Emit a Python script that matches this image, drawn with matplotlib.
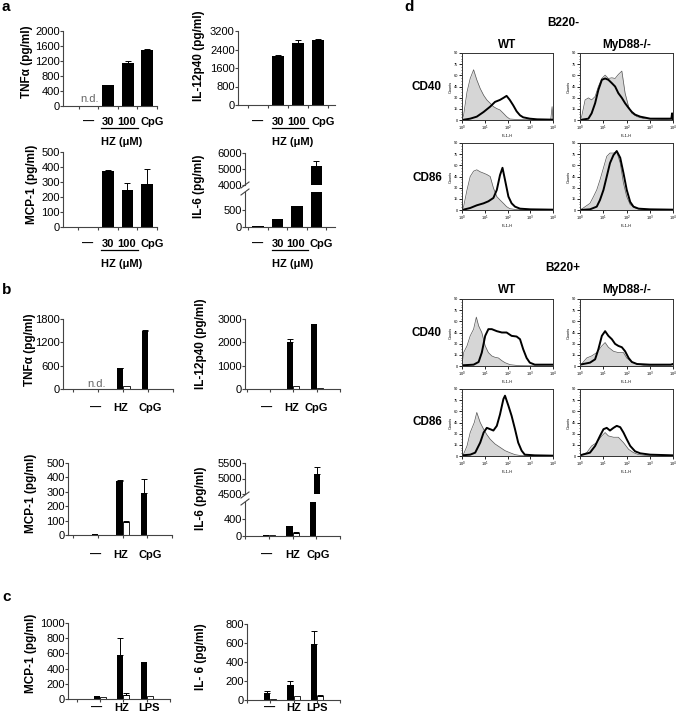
import matplotlib
matplotlib.use("Agg")
import matplotlib.pyplot as plt
from matplotlib.lines import Line2D
import numpy as np

plt.rcParams['font.family'] = ['Liberation Sans', 'DejaVu Sans']

# ---------------- data: panel a (HZ dose) ----------------
a_cats = ["\u2014", "30", "100", "CpG"]
a_tnf = [0, 560, 1160, 1500]
a_tnf_err = [0, 0, 50, 20]
a_il12 = [20, 2100, 2700, 2830]
a_il12_err = [0, 80, 120, 20]
a_mcp = [3, 375, 245, 290]
a_mcp_err = [0, 5, 50, 100]
a_il6 = [30, 250, 620, 5200]
a_il6_err = [0, 0, 0, 300]

# ---------------- data: panel b (black / white pairs) ----------------
b_groups = ["\u2014", "HZ", "CpG"]
b_tnf_black = [0, 530, 1500]
b_tnf_black_err = [0, 20, 20]
b_tnf_white = [0, 80, 0]
b_tnf_white_err = [0, 0, 0]
b_il12_black = [10, 2030, 2800]
b_il12_black_err = [0, 120, 0]
b_il12_white = [10, 120, 30]
b_il12_white_err = [0, 0, 0]
b_mcp_black = [5, 375, 290]
b_mcp_black_err = [0, 5, 100]
b_mcp_white = [3, 90, 3]
b_mcp_white_err = [0, 5, 0]
b_il6_black = [30, 240, 5150]
b_il6_black_err = [0, 0, 230]
b_il6_white = [30, 80, 5]
b_il6_white_err = [0, 20, 0]

# ---------------- data: panel c ----------------
c_groups = ["\u2014", "HZ", "LPS"]
c_mcp_black = [40, 580, 490]
c_mcp_black_err = [0, 220, 0]
c_mcp_white = [22, 55, 40]
c_mcp_white_err = [0, 25, 0]
c_il6_black = [75, 160, 590]
c_il6_black_err = [15, 45, 135]
c_il6_white = [15, 45, 45]
c_il6_white_err = [0, 0, 10]

# ---------------- data: panel d (flow histograms, decade, fraction of max) ----------------
neg_wt_cd40_ctrl = [(0, 0), (0.07, 0.07), (0.22, 0.42), (0.36, 0.62), (0.51, 0.75), (0.65, 0.6),
                    (0.8, 0.47), (0.95, 0.37), (1.09, 0.3), (1.24, 0.25), (1.38, 0.2), (1.53, 0.17),
                    (1.67, 0.15), (1.82, 0.1), (1.96, 0.05), (2.1, 0.015), (2.5, 0.005), (3.9, 0.005),
                    (3.96, 0.2), (4.0, 0)]
neg_wt_cd40_hz = [(0, 0), (0.36, 0.02), (0.65, 0.05), (0.95, 0.12), (1.24, 0.2), (1.45, 0.27),
                  (1.67, 0.3), (1.82, 0.33), (1.96, 0.36), (2.1, 0.3), (2.25, 0.22), (2.4, 0.13),
                  (2.55, 0.07), (2.69, 0.04), (2.98, 0.02), (3.3, 0.01), (4.0, 0.005)]
neg_myd_cd40_ctrl = [(0, 0), (0.07, 0.05), (0.22, 0.3), (0.36, 0.33), (0.5, 0.3), (0.65, 0.35),
                     (0.79, 0.5), (0.94, 0.62), (1.08, 0.67), (1.22, 0.62), (1.37, 0.63), (1.51, 0.62),
                     (1.65, 0.68), (1.8, 0.73), (1.94, 0.4), (2.09, 0.2), (2.23, 0.1), (2.45, 0.05),
                     (2.75, 0.02), (3.5, 0.01), (4.0, 0)]
neg_myd_cd40_hz = [(0, 0), (0.36, 0.02), (0.5, 0.1), (0.65, 0.25), (0.79, 0.45), (0.94, 0.6),
                   (1.08, 0.62), (1.22, 0.6), (1.37, 0.55), (1.51, 0.5), (1.65, 0.4), (1.8, 0.33),
                   (1.94, 0.25), (2.09, 0.18), (2.23, 0.12), (2.37, 0.08), (2.59, 0.05), (3.02, 0.02),
                   (3.6, 0.02), (3.93, 0.02), (3.96, 0.1), (4.0, 0)]
neg_wt_cd86_ctrl = [(0, 0), (0.07, 0.05), (0.22, 0.3), (0.36, 0.5), (0.51, 0.58), (0.65, 0.6),
                    (0.8, 0.57), (0.95, 0.55), (1.09, 0.53), (1.24, 0.5), (1.38, 0.33), (1.53, 0.2),
                    (1.67, 0.15), (1.82, 0.1), (1.96, 0.05), (2.1, 0.02), (2.4, 0.005), (4.0, 0)]
neg_wt_cd86_hz = [(0, 0), (0.36, 0.03), (0.65, 0.07), (0.95, 0.1), (1.16, 0.13), (1.38, 0.18),
                  (1.53, 0.3), (1.67, 0.52), (1.78, 0.63), (1.89, 0.45), (2.04, 0.2), (2.18, 0.1),
                  (2.33, 0.05), (2.55, 0.02), (3.0, 0.01), (4.0, 0.005)]
neg_myd_cd86_ctrl = [(0, 0), (0.14, 0.03), (0.43, 0.1), (0.58, 0.2), (0.72, 0.3), (0.86, 0.45),
                     (1.01, 0.63), (1.15, 0.8), (1.29, 0.85), (1.44, 0.85), (1.58, 0.87), (1.73, 0.7),
                     (1.87, 0.4), (2.01, 0.2), (2.16, 0.08), (2.37, 0.03), (2.7, 0.005), (4.0, 0)]
neg_myd_cd86_hz = [(0, 0), (0.43, 0.01), (0.72, 0.05), (0.86, 0.15), (1.01, 0.3), (1.15, 0.5),
                   (1.29, 0.7), (1.44, 0.82), (1.58, 0.88), (1.73, 0.78), (1.87, 0.55), (2.01, 0.3),
                   (2.16, 0.12), (2.3, 0.05), (2.52, 0.02), (3.0, 0.01), (4.0, 0.005)]
pos_wt_cd40_ctrl = [(0, 0), (0.07, 0.2), (0.22, 0.3), (0.36, 0.45), (0.51, 0.55), (0.63, 0.73),
                    (0.73, 0.6), (0.87, 0.5), (1.02, 0.3), (1.16, 0.2), (1.31, 0.15), (1.45, 0.13),
                    (1.6, 0.12), (1.75, 0.08), (1.89, 0.05), (2.11, 0.02), (2.5, 0.005), (4.0, 0)]
pos_wt_cd40_hz = [(0, 0.01), (0.51, 0.02), (0.73, 0.06), (0.87, 0.2), (1.02, 0.45), (1.16, 0.55),
                  (1.31, 0.55), (1.53, 0.52), (1.75, 0.5), (1.96, 0.5), (2.18, 0.45), (2.4, 0.44),
                  (2.55, 0.4), (2.69, 0.25), (2.84, 0.12), (2.98, 0.05), (3.2, 0.02), (3.56, 0.02),
                  (4.0, 0.02)]
pos_myd_cd40_ctrl = [(0, 0), (0.07, 0.03), (0.29, 0.12), (0.5, 0.15), (0.72, 0.2), (0.94, 0.3),
                     (1.08, 0.35), (1.22, 0.28), (1.44, 0.22), (1.65, 0.2), (1.87, 0.2), (2.01, 0.12),
                     (2.23, 0.06), (2.45, 0.03), (2.8, 0.005), (4.0, 0)]
pos_myd_cd40_hz = [(0, 0.02), (0.43, 0.05), (0.65, 0.1), (0.79, 0.25), (0.94, 0.45), (1.08, 0.52),
                   (1.22, 0.45), (1.37, 0.4), (1.51, 0.33), (1.65, 0.3), (1.8, 0.28), (1.94, 0.22),
                   (2.09, 0.12), (2.23, 0.06), (2.45, 0.03), (3.0, 0.02), (3.9, 0.02), (4.0, 0.03)]
pos_wt_cd86_ctrl = [(0, 0), (0.07, 0.03), (0.22, 0.15), (0.36, 0.35), (0.54, 0.5), (0.65, 0.65),
                    (0.8, 0.5), (0.95, 0.4), (1.09, 0.32), (1.24, 0.25), (1.45, 0.18), (1.67, 0.13),
                    (1.89, 0.08), (2.1, 0.05), (2.33, 0.02), (2.6, 0.005), (4.0, 0)]
pos_wt_cd86_hz = [(0, 0.01), (0.36, 0.02), (0.58, 0.05), (0.8, 0.2), (0.95, 0.35), (1.09, 0.42),
                  (1.24, 0.4), (1.38, 0.38), (1.53, 0.45), (1.67, 0.62), (1.82, 0.85), (1.89, 0.9),
                  (2.04, 0.75), (2.18, 0.6), (2.33, 0.4), (2.47, 0.2), (2.62, 0.08), (2.76, 0.02),
                  (3.2, 0.01), (4.0, 0.005)]
pos_myd_cd86_ctrl = [(0, 0), (0.07, 0.02), (0.29, 0.05), (0.5, 0.15), (0.72, 0.2), (0.94, 0.3),
                     (1.08, 0.35), (1.22, 0.3), (1.44, 0.28), (1.65, 0.28), (1.87, 0.2), (2.09, 0.1),
                     (2.3, 0.05), (2.52, 0.02), (2.9, 0.005), (4.0, 0)]
pos_myd_cd86_hz = [(0, 0.01), (0.43, 0.05), (0.65, 0.15), (0.86, 0.3), (1.01, 0.4), (1.15, 0.42),
                   (1.29, 0.38), (1.44, 0.42), (1.58, 0.45), (1.73, 0.43), (1.87, 0.35), (2.01, 0.25),
                   (2.16, 0.15), (2.37, 0.07), (2.59, 0.04), (3.02, 0.02), (4.0, 0.01)]

# ---------------- figure helpers (pixel layout) ----------------
W, H = 677, 720
fig = plt.figure(figsize=(W / 100, H / 100), dpi=100)
AXC = '#444444'


def add_ax(x0, y0, x1, y1):
    return fig.add_axes([x0 / W, 1 - y1 / H, (x1 - x0) / W, (y1 - y0) / H])


def ftext(x, y, s, **kw):
    kw.setdefault('ha', 'center')
    kw.setdefault('va', 'center')
    fig.text(x / W, 1 - y / H, s, **kw)


def fline(x0, y0, x1, y1, **kw):
    fig.add_artist(Line2D([x0 / W, x1 / W], [1 - y0 / H, 1 - y1 / H],
                          transform=fig.transFigure, **kw))


def style_bar_ax(ax, xlim, ylim, yticks, xt, bottom=True):
    ax.set_xlim(xlim)
    ax.set_ylim(ylim)
    ax.patch.set_alpha(0)
    for s in ['top', 'right']:
        ax.spines[s].set_visible(False)
    ax.spines['left'].set_color(AXC)
    ax.spines['left'].set_linewidth(0.8)
    ax.spines['bottom'].set_color(AXC)
    ax.spines['bottom'].set_linewidth(0.8)
    ax.spines['bottom'].set_visible(bottom)
    ax.set_yticks(yticks)
    ax.set_yticklabels([str(t) for t in yticks], fontsize=8)
    ax.tick_params(axis='y', length=2, width=0.8, color=AXC, pad=0.3)
    if bottom:
        ax.set_xticks(xt)
        ax.tick_params(axis='x', length=2.5, width=0.8, color=AXC)
    else:
        ax.set_xticks([])
    ax.set_xticklabels([])


def cat_labels(ax, xs, labels, dy_px):
    for x, s in zip(xs, labels):
        ax.annotate(s, xy=(x, 0), xycoords=('data', 'axes fraction'),
                    xytext=(0, -dy_px * 0.72), textcoords='offset points',
                    ha='center', va='center', fontsize=8, fontweight='bold',
                    annotation_clip=False)


def hz_dose(ax, x0, x1, dy_px, xc):
    trans = ax.get_xaxis_transform()
    h = ax.get_position().height * H
    ax.plot([x0, x1], [-(dy_px + 6) / h] * 2, color='black', lw=0.9,
            transform=trans, clip_on=False)
    ax.annotate("HZ (\u03bcM)", xy=(xc, 0), xycoords=('data', 'axes fraction'),
                xytext=(0, -(dy_px + 20) * 0.72), textcoords='offset points',
                ha='center', va='center', fontsize=8, fontweight='bold',
                annotation_clip=False)


def single_bars(ax, vals, errs):
    x = np.arange(len(vals))
    ax.bar(x, vals, 0.6, color='black', linewidth=0)
    e = np.array(errs)
    m = e > 0
    ax.errorbar(x[m], np.array(vals)[m], yerr=[np.zeros(m.sum()), e[m]], fmt='none',
                ecolor='black', elinewidth=0.7, capsize=2, capthick=0.7)


def pair_bars(ax, black, berr, white, werr, w=0.26):
    x = np.arange(len(black))
    ax.bar(x - w / 2, black, w, color='black', linewidth=0)
    ax.bar(x + w / 2, white, w, color='white', edgecolor='black', linewidth=0.6)
    for xs, v, e in [(x - w / 2, black, berr), (x + w / 2, white, werr)]:
        e = np.array(e)
        m = e > 0
        ax.errorbar(xs[m], np.array(v)[m], yerr=[np.zeros(m.sum()), e[m]], fmt='none',
                    ecolor='black', elinewidth=0.7, capsize=2, capthick=0.7)


def ylab(x, y, s):
    ftext(x, y, s, rotation=90, fontsize=8.5, fontweight='bold')


def break_marks(x, y):
    fline(x - 4, y - 1, x + 4, y - 7, color=AXC, lw=0.8)
    fline(x - 4, y + 6, x + 4, y, color=AXC, lw=0.8)


# ---------------- panel a ----------------
a_xt = [-0.5, 0.5, 1.5, 2.5, 3.5]
a_lx = [0, 1, 1.95, 3.25]

ax = add_ax(63, 31, 157, 106)
single_bars(ax, a_tnf, a_tnf_err)
style_bar_ax(ax, (-1.3, 3.4), (0, 2000), [0, 400, 800, 1200, 1600, 2000], a_xt)
ax.text(0.05, 40, "n.d.", ha='center', va='bottom', fontsize=8, color='#666666')
cat_labels(ax, a_lx, a_cats, 16)
hz_dose(ax, 0.65, 2.55, 16, 1.7)
ylab(27, 62, "TNF\u03b1 (pg/ml)")

ax = add_ax(238, 31, 335, 105)
single_bars(ax, a_il12, a_il12_err)
style_bar_ax(ax, (-1.0, 3.85), (0, 3200), [0, 800, 1600, 2400, 3200], a_xt)
cat_labels(ax, a_lx, a_cats, 17)
hz_dose(ax, 0.7, 2.5, 17, 1.75)
ylab(199, 56, "IL-12p40 (pg/ml)")

ax = add_ax(63, 152, 157, 227)
single_bars(ax, a_mcp, a_mcp_err)
style_bar_ax(ax, (-1.27, 3.43), (0, 500), [0, 100, 200, 300, 400, 500], a_xt)
cat_labels(ax, a_lx, a_cats, 17)
hz_dose(ax, 0.65, 2.55, 17, 1.7)
ylab(32, 184, "MCP-1 (pg/ml)")

ax_u = add_ax(245, 153, 335, 185)
single_bars(ax_u, a_il6, a_il6_err)
style_bar_ax(ax_u, (-0.67, 3.95), (4000, 6000), [4000, 5000, 6000], a_xt, bottom=False)
ax = add_ax(245, 192, 335, 227)
single_bars(ax, a_il6, a_il6_err)
style_bar_ax(ax, (-0.67, 3.95), (0, 1050), [0, 500], a_xt)
cat_labels(ax, a_lx, a_cats, 17)
hz_dose(ax, 0.72, 2.56, 17, 1.8)
break_marks(245, 189)
ylab(199, 186, "IL-6 (pg/ml)")

# ---------------- panel b ----------------
b_xt = [-1, 0, 1, 2, 3]
b_lx = [-0.1, 0.9, 2.1]

ax = add_ax(63, 319, 173, 389)
pair_bars(ax, b_tnf_black, b_tnf_black_err, b_tnf_white, b_tnf_white_err)
style_bar_ax(ax, (-1.42, 2.98), (0, 1800), [0, 600, 1200, 1800], b_xt)
ax.text(-0.06, 0, "n.d.", ha='center', va='bottom', fontsize=8, color='#666666')
cat_labels(ax, b_lx, b_groups, 19)
ylab(30, 350, "TNF\u03b1 (pg/ml)")

ax = add_ax(245, 319, 340, 389)
pair_bars(ax, b_il12_black, b_il12_black_err, b_il12_white, b_il12_white_err)
style_bar_ax(ax, (-1.08, 2.72), (0, 3000), [0, 1000, 2000, 3000], b_xt)
cat_labels(ax, [-0.16, 0.92, 2.0], b_groups, 19)
ylab(201, 344, "IL-12p40 (pg/ml)")

ax = add_ax(68, 463, 172, 535)
pair_bars(ax, b_mcp_black, b_mcp_black_err, b_mcp_white, b_mcp_white_err)
style_bar_ax(ax, (-1.22, 2.94), (0, 500), [0, 100, 200, 300, 400, 500], b_xt)
cat_labels(ax, b_lx, b_groups, 20)
ylab(31, 493, "MCP-1 (pg/ml)")

ax_u = add_ax(245, 463, 340, 494)
pair_bars(ax_u, b_il6_black, b_il6_black_err, b_il6_white, b_il6_white_err)
style_bar_ax(ax_u, (-1.0, 2.8), (4500, 5500), [4500, 5000, 5500], b_xt, bottom=False)
ax = add_ax(245, 502, 340, 536)
pair_bars(ax, b_il6_black, b_il6_black_err, b_il6_white, b_il6_white_err)
style_bar_ax(ax, (-1.0, 2.8), (0, 785), [0, 400], b_xt)
cat_labels(ax, [-0.08, 1.0, 2.08], b_groups, 19)
break_marks(245, 499)
ylab(201, 498, "IL-6 (pg/ml)")

# ---------------- panel c ----------------
ax = add_ax(68, 623, 170, 699)
pair_bars(ax, c_mcp_black, c_mcp_black_err, c_mcp_white, c_mcp_white_err)
style_bar_ax(ax, (-1.375, 2.875), (0, 1000), [0, 200, 400, 600, 800, 1000], b_xt)
cat_labels(ax, [-0.17, 0.92, 2.12], c_groups, 9)
ylab(31, 653, "MCP-1 (pg/ml)")

ax = add_ax(247, 624, 340, 700)
pair_bars(ax, c_il6_black, c_il6_black_err, c_il6_white, c_il6_white_err)
style_bar_ax(ax, (-0.86, 2.78), (0, 800), [0, 200, 400, 600, 800], b_xt)
cat_labels(ax, [-0.04, 1.02, 2.0], c_groups, 8)
ylab(201, 657, "IL- 6 (pg/ml)")


# ---------------- panel d ----------------
def flow_ax(x0, y0, x1, y1, ctrl, hz):
    ax = add_ax(x0, y0, x1, y1)
    cd = np.array(ctrl)
    hd = np.array(hz)
    ax.fill_between(10 ** cd[:, 0], cd[:, 1], color='#d6d6d6', linewidth=0)
    ax.plot(10 ** cd[:, 0], cd[:, 1], color='#555555', lw=0.5)
    ax.plot(10 ** hd[:, 0], hd[:, 1], color='black', lw=1.4)
    ax.set_xscale('log')
    ax.set_xlim(1, 1e4)
    ax.set_ylim(0, 1.0)
    for s in ax.spines.values():
        s.set_linewidth(0.7)
        s.set_color('#333333')
    ax.set_xticks([1, 10, 100, 1000, 10000])
    ax.set_xticklabels(['10$^0$', '10$^1$', '10$^2$', '10$^3$', '10$^4$'], fontsize=2.8)
    ax.set_yticks(np.linspace(0, 1, 7))
    ax.set_yticklabels(['0', '15', '30', '45', '60', '75', '90'], fontsize=2.8)
    ax.set_yticks(np.linspace(0, 1, 25), minor=True)
    ax.tick_params(which='major', length=2, width=0.6, pad=0.8)
    ax.tick_params(which='minor', length=1, width=0.4)
    ax.set_xlabel('FL1-H', fontsize=2.8, labelpad=0.5)
    ax.set_ylabel('Counts', fontsize=2.8, labelpad=0.5)
    return ax


col_x = [(462, 553), (580, 673)]
rows_y = [(53, 120), (143, 210), (299, 366), (389, 456)]
flow_layout = [
    (0, 0, neg_wt_cd40_ctrl, neg_wt_cd40_hz), (0, 1, neg_myd_cd40_ctrl, neg_myd_cd40_hz),
    (1, 0, neg_wt_cd86_ctrl, neg_wt_cd86_hz), (1, 1, neg_myd_cd86_ctrl, neg_myd_cd86_hz),
    (2, 0, pos_wt_cd40_ctrl, pos_wt_cd40_hz), (2, 1, pos_myd_cd40_ctrl, pos_myd_cd40_hz),
    (3, 0, pos_wt_cd86_ctrl, pos_wt_cd86_hz), (3, 1, pos_myd_cd86_ctrl, pos_myd_cd86_hz),
]
for r, c, ctrl, hz in flow_layout:
    flow_ax(col_x[c][0], rows_y[r][0], col_x[c][1], rows_y[r][1], ctrl, hz)

fl = dict(fontsize=8.5, fontweight='bold')
ftext(563, 23, "B220-", **fl)
ftext(507, 45, "WT", **fl)
ftext(627, 45, "MyD88-/-", **fl)
ftext(427, 87, "CD40", **fl)
ftext(427, 178, "CD86", **fl)
ftext(563, 268, "B220+", **fl)
ftext(507, 290, "WT", **fl)
ftext(627, 290, "MyD88-/-", **fl)
ftext(427, 333, "CD40", **fl)
ftext(427, 422, "CD86", **fl)

# panel letters
pl = dict(fontsize=11, fontweight='bold', ha='left')
ftext(2, 7, "a", **pl)
ftext(2, 290, "b", **pl)
ftext(2, 597, "c", **pl)
ftext(404, 7, "d", **pl)

fig.savefig("out.png", dpi=100)
